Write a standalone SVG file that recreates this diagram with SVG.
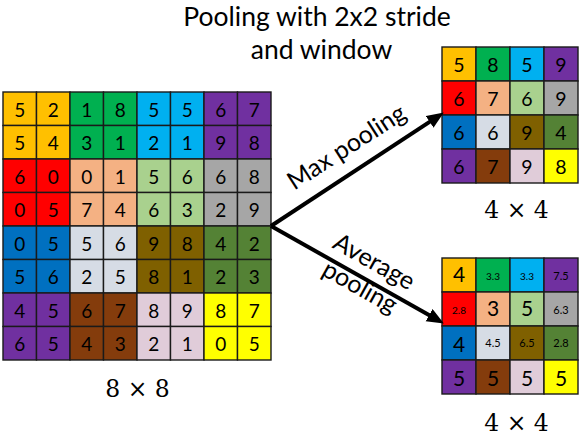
<svg xmlns="http://www.w3.org/2000/svg" width="580" height="436" viewBox="0 0 580 436">
  <style>
    .cell { stroke: #1a1a1a; stroke-width: 1.4; }
    .c1 { fill: #FFC000; } .c2 { fill: #00B050; } .c3 { fill: #00B0F0; } .c4 { fill: #7030A0; }
    .c5 { fill: #FF0000; } .c6 { fill: #F4B183; } .c7 { fill: #A9D18E; } .c8 { fill: #A6A6A6; }
    .c9 { fill: #0070C0; } .c10 { fill: #D6DCE5; } .c11 { fill: #7F6000; } .c12 { fill: #548235; }
    .c13 { fill: #843C0C; } .c14 { fill: #E0CCD9; } .c15 { fill: #FFFF00; }
    text { font-family: Lato, "Open Sans", "Liberation Sans", sans-serif; fill: #000; text-anchor: middle; }
    .n { font-size: 19px; }
    .m { font-size: 19.5px; }
    .big { font-size: 21px; }
    .sm { font-size: 10px; }
    .md { font-size: 11px; }
    .title { font-size: 26.5px; }
    .lbl { font-size: 25px; }
    .dim { font-family: "DejaVu Serif", "Liberation Serif", serif; font-size: 23.5px; }
    .conn { stroke: #000; stroke-width: 4; fill: none; marker-end: url(#head); }
  </style>
  <defs>
    <marker id="head" markerUnits="userSpaceOnUse" markerWidth="18" markerHeight="16" refX="10" refY="7" orient="auto">
      <path d="M0,0 L17,7 L0,14 z" fill="#000"/>
    </marker>
  </defs>

  <rect width="580" height="436" fill="#fff"/>

  <!-- title -->
  <g id="title">
    <text class="title" x="317" y="26">Pooling with 2x2 stride</text>
    <text class="title" x="321.5" y="59">and window</text>
  </g>

  <!-- 8x8 input feature map -->
  <g id="input">
    <g id="input-cells">
      <!-- row 0 -->
      <rect class="cell c1" x="3" y="92" width="33.5" height="33.5"/><rect class="cell c1" x="36.5" y="92" width="33.5" height="33.5"/>
      <rect class="cell c2" x="70" y="92" width="33.5" height="33.5"/><rect class="cell c2" x="103.5" y="92" width="33.5" height="33.5"/>
      <rect class="cell c3" x="137" y="92" width="33.5" height="33.5"/><rect class="cell c3" x="170.5" y="92" width="33.5" height="33.5"/>
      <rect class="cell c4" x="204" y="92" width="33.5" height="33.5"/><rect class="cell c4" x="237.5" y="92" width="33.5" height="33.5"/>
      <!-- row 1 -->
      <rect class="cell c1" x="3" y="125.5" width="33.5" height="33.5"/><rect class="cell c1" x="36.5" y="125.5" width="33.5" height="33.5"/>
      <rect class="cell c2" x="70" y="125.5" width="33.5" height="33.5"/><rect class="cell c2" x="103.5" y="125.5" width="33.5" height="33.5"/>
      <rect class="cell c3" x="137" y="125.5" width="33.5" height="33.5"/><rect class="cell c3" x="170.5" y="125.5" width="33.5" height="33.5"/>
      <rect class="cell c4" x="204" y="125.5" width="33.5" height="33.5"/><rect class="cell c4" x="237.5" y="125.5" width="33.5" height="33.5"/>
      <!-- row 2 -->
      <rect class="cell c5" x="3" y="159" width="33.5" height="33.5"/><rect class="cell c5" x="36.5" y="159" width="33.5" height="33.5"/>
      <rect class="cell c6" x="70" y="159" width="33.5" height="33.5"/><rect class="cell c6" x="103.5" y="159" width="33.5" height="33.5"/>
      <rect class="cell c7" x="137" y="159" width="33.5" height="33.5"/><rect class="cell c7" x="170.5" y="159" width="33.5" height="33.5"/>
      <rect class="cell c8" x="204" y="159" width="33.5" height="33.5"/><rect class="cell c8" x="237.5" y="159" width="33.5" height="33.5"/>
      <!-- row 3 -->
      <rect class="cell c5" x="3" y="192.5" width="33.5" height="33.5"/><rect class="cell c5" x="36.5" y="192.5" width="33.5" height="33.5"/>
      <rect class="cell c6" x="70" y="192.5" width="33.5" height="33.5"/><rect class="cell c6" x="103.5" y="192.5" width="33.5" height="33.5"/>
      <rect class="cell c7" x="137" y="192.5" width="33.5" height="33.5"/><rect class="cell c7" x="170.5" y="192.5" width="33.5" height="33.5"/>
      <rect class="cell c8" x="204" y="192.5" width="33.5" height="33.5"/><rect class="cell c8" x="237.5" y="192.5" width="33.5" height="33.5"/>
      <!-- row 4 -->
      <rect class="cell c9" x="3" y="226" width="33.5" height="33.5"/><rect class="cell c9" x="36.5" y="226" width="33.5" height="33.5"/>
      <rect class="cell c10" x="70" y="226" width="33.5" height="33.5"/><rect class="cell c10" x="103.5" y="226" width="33.5" height="33.5"/>
      <rect class="cell c11" x="137" y="226" width="33.5" height="33.5"/><rect class="cell c11" x="170.5" y="226" width="33.5" height="33.5"/>
      <rect class="cell c12" x="204" y="226" width="33.5" height="33.5"/><rect class="cell c12" x="237.5" y="226" width="33.5" height="33.5"/>
      <!-- row 5 -->
      <rect class="cell c9" x="3" y="259.5" width="33.5" height="33.5"/><rect class="cell c9" x="36.5" y="259.5" width="33.5" height="33.5"/>
      <rect class="cell c10" x="70" y="259.5" width="33.5" height="33.5"/><rect class="cell c10" x="103.5" y="259.5" width="33.5" height="33.5"/>
      <rect class="cell c11" x="137" y="259.5" width="33.5" height="33.5"/><rect class="cell c11" x="170.5" y="259.5" width="33.5" height="33.5"/>
      <rect class="cell c12" x="204" y="259.5" width="33.5" height="33.5"/><rect class="cell c12" x="237.5" y="259.5" width="33.5" height="33.5"/>
      <!-- row 6 -->
      <rect class="cell c4" x="3" y="293" width="33.5" height="33.5"/><rect class="cell c4" x="36.5" y="293" width="33.5" height="33.5"/>
      <rect class="cell c13" x="70" y="293" width="33.5" height="33.5"/><rect class="cell c13" x="103.5" y="293" width="33.5" height="33.5"/>
      <rect class="cell c14" x="137" y="293" width="33.5" height="33.5"/><rect class="cell c14" x="170.5" y="293" width="33.5" height="33.5"/>
      <rect class="cell c15" x="204" y="293" width="33.5" height="33.5"/><rect class="cell c15" x="237.5" y="293" width="33.5" height="33.5"/>
      <!-- row 7 -->
      <rect class="cell c4" x="3" y="326.5" width="33.5" height="33.5"/><rect class="cell c4" x="36.5" y="326.5" width="33.5" height="33.5"/>
      <rect class="cell c13" x="70" y="326.5" width="33.5" height="33.5"/><rect class="cell c13" x="103.5" y="326.5" width="33.5" height="33.5"/>
      <rect class="cell c14" x="137" y="326.5" width="33.5" height="33.5"/><rect class="cell c14" x="170.5" y="326.5" width="33.5" height="33.5"/>
      <rect class="cell c15" x="204" y="326.5" width="33.5" height="33.5"/><rect class="cell c15" x="237.5" y="326.5" width="33.5" height="33.5"/>
    </g>
    <g id="input-values">
      <text class="n" x="19.75" y="116.5">5</text><text class="n" x="53.25" y="116.5">2</text><text class="n" x="86.75" y="116.5">1</text><text class="n" x="120.25" y="116.5">8</text><text class="n" x="153.75" y="116.5">5</text><text class="n" x="187.25" y="116.5">5</text><text class="n" x="220.75" y="116.5">6</text><text class="n" x="254.25" y="116.5">7</text>
      <text class="n" x="19.75" y="150">5</text><text class="n" x="53.25" y="150">4</text><text class="n" x="86.75" y="150">3</text><text class="n" x="120.25" y="150">1</text><text class="n" x="153.75" y="150">2</text><text class="n" x="187.25" y="150">1</text><text class="n" x="220.75" y="150">9</text><text class="n" x="254.25" y="150">8</text>
      <text class="n" x="19.75" y="183.5">6</text><text class="n" x="53.25" y="183.5">0</text><text class="n" x="86.75" y="183.5">0</text><text class="n" x="120.25" y="183.5">1</text><text class="n" x="153.75" y="183.5">5</text><text class="n" x="187.25" y="183.5">6</text><text class="n" x="220.75" y="183.5">6</text><text class="n" x="254.25" y="183.5">8</text>
      <text class="n" x="19.75" y="217">0</text><text class="n" x="53.25" y="217">5</text><text class="n" x="86.75" y="217">7</text><text class="n" x="120.25" y="217">4</text><text class="n" x="153.75" y="217">6</text><text class="n" x="187.25" y="217">3</text><text class="n" x="220.75" y="217">2</text><text class="n" x="254.25" y="217">9</text>
      <text class="n" x="19.75" y="250.5">0</text><text class="n" x="53.25" y="250.5">5</text><text class="n" x="86.75" y="250.5">5</text><text class="n" x="120.25" y="250.5">6</text><text class="n" x="153.75" y="250.5">9</text><text class="n" x="187.25" y="250.5">8</text><text class="n" x="220.75" y="250.5">4</text><text class="n" x="254.25" y="250.5">2</text>
      <text class="n" x="19.75" y="284">5</text><text class="n" x="53.25" y="284">6</text><text class="n" x="86.75" y="284">2</text><text class="n" x="120.25" y="284">5</text><text class="n" x="153.75" y="284">8</text><text class="n" x="187.25" y="284">1</text><text class="n" x="220.75" y="284">2</text><text class="n" x="254.25" y="284">3</text>
      <text class="n" x="19.75" y="317.5">4</text><text class="n" x="53.25" y="317.5">5</text><text class="n" x="86.75" y="317.5">6</text><text class="n" x="120.25" y="317.5">7</text><text class="n" x="153.75" y="317.5">8</text><text class="n" x="187.25" y="317.5">9</text><text class="n" x="220.75" y="317.5">8</text><text class="n" x="254.25" y="317.5">7</text>
      <text class="n" x="19.75" y="351">6</text><text class="n" x="53.25" y="351">5</text><text class="n" x="86.75" y="351">4</text><text class="n" x="120.25" y="351">3</text><text class="n" x="153.75" y="351">2</text><text class="n" x="187.25" y="351">1</text><text class="n" x="220.75" y="351">0</text><text class="n" x="254.25" y="351">5</text>
    </g>
    <text class="dim" x="137.5" y="397">8 × 8</text>
  </g>

  <!-- 4x4 max pooling result -->
  <g id="max-pool">
    <rect class="cell c1" x="442" y="47" width="34" height="34"/><rect class="cell c2" x="476" y="47" width="34" height="34"/><rect class="cell c3" x="510" y="47" width="34" height="34"/><rect class="cell c4" x="544" y="47" width="34" height="34"/>
    <rect class="cell c5" x="442" y="81" width="34" height="34"/><rect class="cell c6" x="476" y="81" width="34" height="34"/><rect class="cell c7" x="510" y="81" width="34" height="34"/><rect class="cell c8" x="544" y="81" width="34" height="34"/>
    <rect class="cell c9" x="442" y="115" width="34" height="34"/><rect class="cell c10" x="476" y="115" width="34" height="34"/><rect class="cell c11" x="510" y="115" width="34" height="34"/><rect class="cell c12" x="544" y="115" width="34" height="34"/>
    <rect class="cell c4" x="442" y="149" width="34" height="34"/><rect class="cell c13" x="476" y="149" width="34" height="34"/><rect class="cell c14" x="510" y="149" width="34" height="34"/><rect class="cell c15" x="544" y="149" width="34" height="34"/>
    <text class="m" x="459" y="71.5">5</text><text class="m" x="493" y="71.5">8</text><text class="m" x="527" y="71.5">5</text><text class="m" x="561" y="71.5">9</text>
    <text class="m" x="459" y="105.5">6</text><text class="m" x="493" y="105.5">7</text><text class="m" x="527" y="105.5">6</text><text class="m" x="561" y="105.5">9</text>
    <text class="m" x="459" y="139.5">6</text><text class="m" x="493" y="139.5">6</text><text class="m" x="527" y="139.5">9</text><text class="m" x="561" y="139.5">4</text>
    <text class="m" x="459" y="173.5">6</text><text class="m" x="493" y="173.5">7</text><text class="m" x="527" y="173.5">9</text><text class="m" x="561" y="173.5">8</text>
    <text class="dim" x="516.5" y="218">4 × 4</text>
  </g>

  <!-- 4x4 average pooling result -->
  <g id="avg-pool">
    <rect class="cell c1" x="442" y="258" width="34" height="34"/><rect class="cell c2" x="476" y="258" width="34" height="34"/><rect class="cell c3" x="510" y="258" width="34" height="34"/><rect class="cell c4" x="544" y="258" width="34" height="34"/>
    <rect class="cell c5" x="442" y="292" width="34" height="34"/><rect class="cell c6" x="476" y="292" width="34" height="34"/><rect class="cell c7" x="510" y="292" width="34" height="34"/><rect class="cell c8" x="544" y="292" width="34" height="34"/>
    <rect class="cell c9" x="442" y="326" width="34" height="34"/><rect class="cell c10" x="476" y="326" width="34" height="34"/><rect class="cell c11" x="510" y="326" width="34" height="34"/><rect class="cell c12" x="544" y="326" width="34" height="34"/>
    <rect class="cell c4" x="442" y="360" width="34" height="34"/><rect class="cell c13" x="476" y="360" width="34" height="34"/><rect class="cell c14" x="510" y="360" width="34" height="34"/><rect class="cell c15" x="544" y="360" width="34" height="34"/>
    <text class="big" x="459" y="282">4</text><text class="sm" x="493" y="279.5">3.3</text><text class="sm" x="527" y="279.5">3.3</text><text class="md" x="561" y="279.5">7.5</text>
    <text class="sm" x="459" y="313.5">2.8</text><text class="big" x="493" y="316">3</text><text class="big" x="527" y="316">5</text><text class="md" x="561" y="313.5">6.3</text>
    <text class="big" x="459" y="351.5">4</text><text class="md" x="493" y="347">4.5</text><text class="md" x="527" y="347">6.5</text><text class="md" x="561" y="347">2.8</text>
    <text class="big" x="459" y="385.5">5</text><text class="big" x="493" y="385.5">5</text><text class="big" x="527" y="385.5">5</text><text class="big" x="561" y="385.5">5</text>
    <text class="dim" x="516.5" y="431">4 × 4</text>
  </g>

  <!-- connectors -->
  <g id="connectors">
    <line id="to-max" class="conn" x1="271" y1="226" x2="438" y2="116.3"/>
    <line id="to-avg" class="conn" x1="271" y1="226" x2="437.8" y2="320"/>
    <text class="lbl" transform="translate(351,154) rotate(-32.8)">Max pooling</text>
    <g transform="translate(370,269) rotate(29.2)">
      <text class="lbl" x="0" y="0">Average</text>
      <text class="lbl" x="0" y="29">pooling</text>
    </g>
  </g>
</svg>
